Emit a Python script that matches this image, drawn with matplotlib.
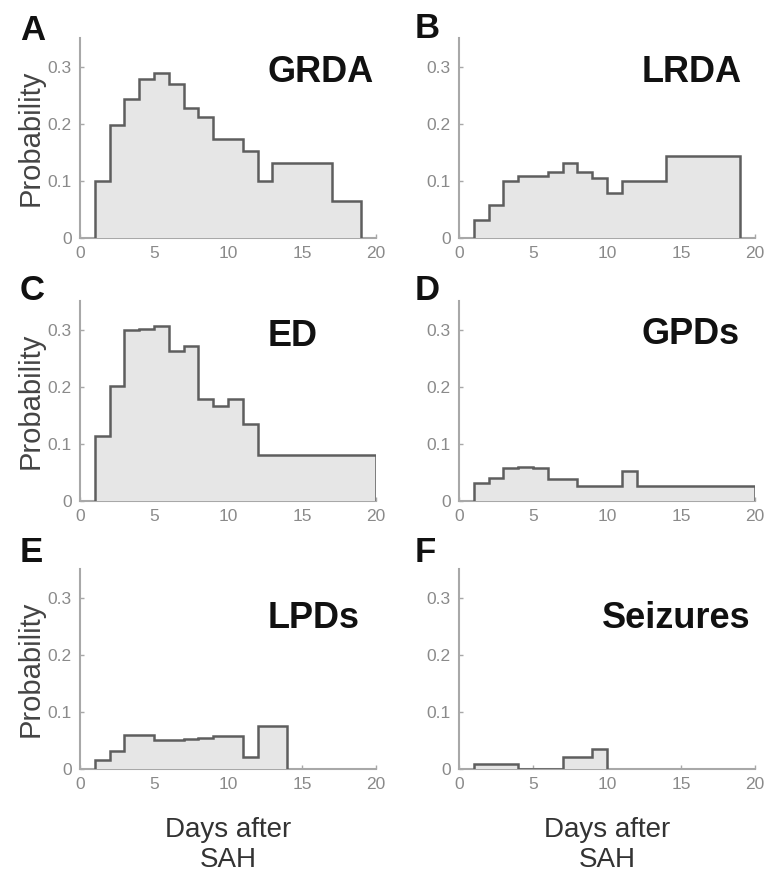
import matplotlib
matplotlib.use("Agg")
import matplotlib.pyplot as plt
import numpy as np

plt.rcParams['font.family'] = ['Liberation Sans', 'DejaVu Sans']

panel_letters = ["A", "B", "C", "D", "E", "F"]
panel_titles = ["GRDA", "LRDA", "ED", "GPDs", "LPDs", "Seizures"]

grda_edges = [1, 2, 3, 4, 5, 6, 7, 8, 9, 11, 12, 13, 17, 19]
grda_vals = [0.100, 0.198, 0.244, 0.279, 0.289, 0.270, 0.227, 0.212, 0.173, 0.152, 0.100, 0.131, 0.065]

lrda_edges = [1, 2, 3, 4, 5, 6, 7, 8, 9, 10, 11, 14, 19]
lrda_vals = [0.032, 0.057, 0.100, 0.109, 0.108, 0.116, 0.131, 0.116, 0.105, 0.078, 0.099, 0.144]

ed_edges = [1, 2, 3, 4, 5, 6, 7, 8, 9, 10, 11, 12, 20]
ed_vals = [0.114, 0.201, 0.300, 0.301, 0.307, 0.262, 0.272, 0.178, 0.167, 0.178, 0.135, 0.080]

gpd_edges = [1, 2, 3, 4, 5, 6, 8, 11, 12, 20]
gpd_vals = [0.032, 0.040, 0.057, 0.059, 0.058, 0.039, 0.027, 0.052, 0.026]

lpd_edges = [1, 2, 3, 5, 7, 8, 9, 11, 12, 14]
lpd_vals = [0.016, 0.032, 0.060, 0.051, 0.052, 0.054, 0.057, 0.021, 0.075]

sz_edges = [1, 4, 7, 9, 10]
sz_vals = [0.008, 0.0, 0.021, 0.035]

all_edges = [grda_edges, lrda_edges, ed_edges, gpd_edges, lpd_edges, sz_edges]
all_vals = [grda_vals, lrda_vals, ed_vals, gpd_vals, lpd_vals, sz_vals]

xticks = [0, 5, 10, 15, 20]
yticks = [0, 0.1, 0.2, 0.3]
ytick_labels = ["0", "0.1", "0.2", "0.3"]

W, H = 765, 876
fig = plt.figure(figsize=(W / 100, H / 100), dpi=100)

lefts = [80, 459]
zeros_y = [238, 501, 769]
ax_w = 296
ax_h = 200

# title placement (axes fraction, left edge / vertical centre)
title_x = [0.635, 0.618, 0.635, 0.618, 0.635, 0.483]
title_y = [0.825, 0.825, 0.82, 0.83, 0.75, 0.75]
# panel letter placement (pixels, left edge / centre)
letter_x = [20, 415, 20, 415, 20, 415]
letter_y = [31, 28, 291, 291, 553, 553]

spine_c = "#a8a8a8"
tick_c = "#8a8a8a"
edge_c = "#5e5e5e"
fill_c = "#e6e6e6"

for i in range(6):
    r, c = divmod(i, 2)
    l = lefts[c]
    b = zeros_y[r]
    ax = fig.add_axes([l / W, 1 - b / H, ax_w / W, ax_h / H])
    e = all_edges[i]
    v = all_vals[i]
    ax.stairs(v, e, fill=True, color=fill_c, baseline=0, zorder=2)
    ax.stairs(v, e, baseline=0, color=edge_c, linewidth=1.8, zorder=3)
    ax.set_xlim(0, 20)
    ax.set_ylim(0, 0.35)
    ax.set_xticks(xticks)
    ax.set_yticks(yticks)
    ax.set_yticklabels(ytick_labels)
    for s in ["top", "right"]:
        ax.spines[s].set_visible(False)
    for s in ["left", "bottom"]:
        ax.spines[s].set_color(spine_c)
        ax.spines[s].set_linewidth(1.5)
        ax.spines[s].set_zorder(1)
    ax.tick_params(direction="in", length=3, width=1, color=spine_c,
                   labelcolor=tick_c, labelsize=12.5, pad=6)
    ax.patch.set_alpha(0)
    ax.text(title_x[i], title_y[i], panel_titles[i], transform=ax.transAxes, ha="left",
            va="center", fontsize=26, fontweight="bold", color="#111111")
    fig.text(letter_x[i] / W, 1 - letter_y[i] / H, panel_letters[i], ha="left", va="center",
             fontsize=25, fontweight="bold", color="#111111")
    if c == 0:
        ax.set_ylabel("Probability", fontsize=21, color="#444444", labelpad=2)
    if r == 2:
        ax.set_xlabel("Days after\nSAH", fontsize=20, color="#333333", labelpad=18,
                      linespacing=1.2)

fig.savefig("out.png", dpi=100)
